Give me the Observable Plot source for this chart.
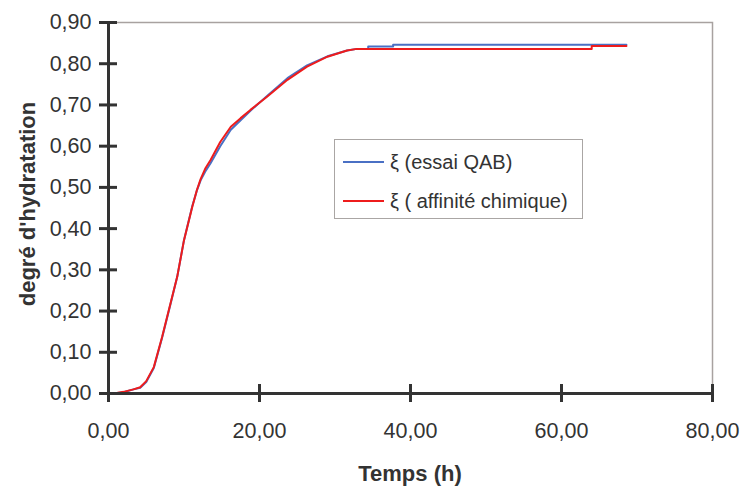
<!DOCTYPE html>
<html>
<head>
<meta charset="utf-8">
<script src="https://cdn.jsdelivr.net/npm/d3@7"></script>
<script src="https://cdn.jsdelivr.net/npm/@observablehq/plot@0.6"></script>
<style>
  body { margin: 0; background: #fff; }
  #wrap { position: relative; width: 745px; height: 490px; font-family: "Liberation Sans", Arial, sans-serif; color: #333; }
  #wrap svg { position: absolute; left: 0; top: 0; }
  .title { position: absolute; font-weight: bold; font-size: 22px; color: #333; white-space: nowrap; }
  #xtitle { left: 410px; top: 482px; transform: translate(-50%, -82%); }
  #ytitle { left: 28px; top: 204px; transform: translate(-50%, -50%) rotate(-90deg); }
  #legend { position: absolute; left: 334px; top: 139px; width: 249px; height: 80px; border: 1px solid #aaa6a4; box-sizing: border-box; background: #fff; }
  .row { position: absolute; left: 8px; height: 24px; display: flex; align-items: center; font-size: 20px; color: #333; white-space: nowrap; }
  .swatch { width: 41px; height: 2px; margin-right: 6px; }
</style>
</head>
<body>
<div id="wrap">
  <div id="chart"></div>
  <div id="ytitle" class="title"></div>
  <div id="xtitle" class="title"></div>
  <div id="legend"></div>
</div>
<script>
// ---- data ----
const timeQAB = [0.7, 2.0, 3.3, 4.2, 5.0, 6.0, 7.1, 8.2, 9.1, 10.0, 11.1, 11.7, 12.2, 12.8, 13.5, 14.8, 16.2, 17.5, 18.8, 21.0, 23.7, 26.3, 29.0, 31.6, 32.9, 34.4, 34.4, 37.7, 37.7, 68.6];
const xiQAB   = [0, 0.003, 0.01, 0.014, 0.028, 0.062, 0.135, 0.216, 0.283, 0.372, 0.455, 0.492, 0.517, 0.538, 0.558, 0.6, 0.64, 0.663, 0.686, 0.722, 0.765, 0.796, 0.818, 0.832, 0.836, 0.836, 0.842, 0.842, 0.846, 0.846];

const timeAff = [0.7, 2.0, 3.3, 4.2, 5.0, 6.0, 7.1, 8.2, 9.1, 10.0, 11.1, 11.7, 12.2, 12.8, 13.5, 14.8, 16.2, 17.5, 18.8, 21.0, 23.7, 26.3, 29.0, 31.6, 32.9, 64.0, 64.0, 68.6];
const xiAff   = [0, 0.004, 0.01, 0.015, 0.03, 0.064, 0.137, 0.218, 0.283, 0.372, 0.453, 0.493, 0.52, 0.545, 0.566, 0.61, 0.647, 0.668, 0.688, 0.72, 0.761, 0.793, 0.817, 0.832, 0.836, 0.836, 0.843, 0.843];

const seriesNames = ["ξ (essai QAB)", "ξ ( affinité chimique)"];
const seriesColors = ["#4a70c4", "#ee1c1c"];
const xTicks = [0, 20, 40, 60, 80];
const yTicks = [0, 0.1, 0.2, 0.3, 0.4, 0.5, 0.6, 0.7, 0.8, 0.9];
const xTitle = "Temps (h)";
const yTitle = "degré d'hydratation";

// ---- build tables ----
const qab = timeQAB.map((t, i) => ({t, v: xiQAB[i]}));
const aff = timeAff.map((t, i) => ({t, v: xiAff[i]}));
const fmt = d => d3.format(".2f")(d).replace(".", ",");
const axisColor = "#333";

const chart = Plot.plot({
  width: 745,
  height: 490,
  marginLeft: 108,
  marginRight: 33,
  marginTop: 22,
  marginBottom: 97,
  x: {domain: [0, 80]},
  y: {domain: [0, 0.9]},
  style: {fontFamily: "'Liberation Sans', Arial, sans-serif", background: "transparent", color: axisColor},
  marks: [
    Plot.frame({stroke: "#a8a2a0", strokeWidth: 1.5}),
    Plot.line(qab, {x: "t", y: "v", stroke: seriesColors[0], strokeWidth: 2}),
    Plot.line(aff, {x: "t", y: "v", stroke: seriesColors[1], strokeWidth: 2}),
    Plot.ruleX([0], {stroke: axisColor, strokeWidth: 3}),
    Plot.ruleY([0], {stroke: axisColor, strokeWidth: 3}),
    Plot.axisY(yTicks, {tickSize: 18, dx: 9, tickPadding: 8, tickFormat: fmt, stroke: axisColor, fill: axisColor, strokeWidth: 3, fontSize: 21.5, label: null}),
    Plot.axisX(xTicks, {tickSize: 18, dy: -9, tickPadding: 20, tickFormat: fmt, stroke: axisColor, fill: axisColor, strokeWidth: 3, fontSize: 21.5, label: null})
  ]
});
document.getElementById("chart").appendChild(chart);

document.getElementById("xtitle").textContent = xTitle;
document.getElementById("ytitle").textContent = yTitle;

const legend = document.getElementById("legend");
const rowTops = [10, 49];
seriesNames.forEach((name, i) => {
  const row = document.createElement("div");
  row.className = "row";
  row.style.top = rowTops[i] + "px";
  const sw = document.createElement("div");
  sw.className = "swatch";
  sw.style.background = seriesColors[i];
  const tx = document.createElement("span");
  tx.textContent = name;
  row.appendChild(sw);
  row.appendChild(tx);
  legend.appendChild(row);
});
</script>
</body>
</html>
